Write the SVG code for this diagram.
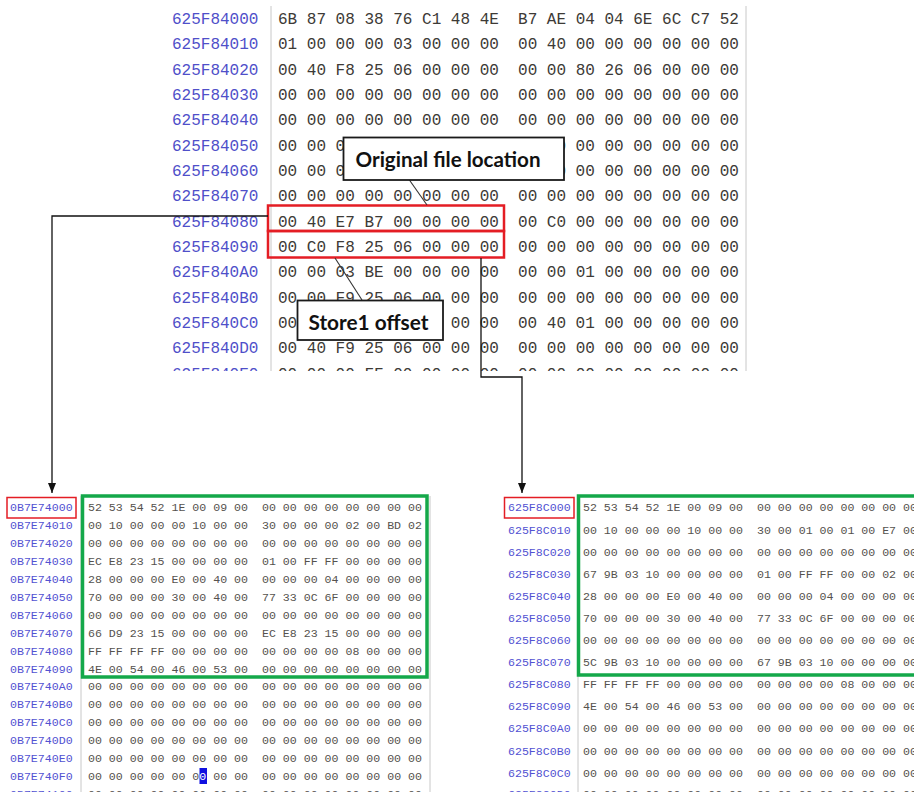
<svg xmlns="http://www.w3.org/2000/svg" width="914" height="792" viewBox="0 0 914 792">
<defs>
<style>
.addr{font-family:"Liberation Mono","Courier New",monospace;font-size:16px;fill:#4f4fc9;white-space:pre}
.hex{font-family:"Liberation Mono","Courier New",monospace;font-size:16px;fill:#3d3a36;white-space:pre}
.addrS{font-family:"Liberation Mono","Courier New",monospace;font-size:11.6px;fill:#5252d2;white-space:pre}
.hexS{font-family:"Liberation Mono","Courier New",monospace;font-size:11.6px;fill:#55524e;white-space:pre}
.sep{stroke:#c8c8c8;stroke-width:1;fill:none}
.red{fill:none;stroke:#e41d24;stroke-width:2.5}
.redS{fill:none;stroke:#e41d24;stroke-width:1.5}
.green{fill:none;stroke:#14a84a;stroke-width:3.5}
.conn{fill:none;stroke:#111;stroke-width:1.3}
.ptr{fill:none;stroke:#333;stroke-width:1.1}
.cbox{fill:#fff;stroke:#1a1a1a;stroke-width:1.8}
.ctext{font-family:"Lato","Liberation Sans",sans-serif;font-weight:bold;font-size:21px;fill:#111}
</style>
<marker id="arr" markerUnits="userSpaceOnUse" markerWidth="10" markerHeight="10" refX="10" refY="5" orient="auto">
<path d="M0,1 L10,5 L0,9 z" fill="#111"/>
</marker>
<clipPath id="clipTop"><rect x="150" y="0" width="620" height="371"/></clipPath>
</defs>
<rect width="914" height="792" fill="#fff"/>

<g id="panel-top" clip-path="url(#clipTop)" xml:space="preserve">
<line class="sep" x1="271" y1="6" x2="271" y2="371"/>
<line class="sep" x1="746" y1="6" x2="746" y2="371" stroke="#dcdcdc"/>
<text class="addr" x="172" y="23.8">625F84000</text><text class="hex" x="278" y="23.8">6B 87 08 38 76 C1 48 4E  B7 AE 04 04 6E 6C C7 52</text>
<text class="addr" x="172" y="49.15">625F84010</text><text class="hex" x="278" y="49.15">01 00 00 00 03 00 00 00  00 40 00 00 00 00 00 00</text>
<text class="addr" x="172" y="74.5">625F84020</text><text class="hex" x="278" y="74.5">00 40 F8 25 06 00 00 00  00 00 80 26 06 00 00 00</text>
<text class="addr" x="172" y="99.85">625F84030</text><text class="hex" x="278" y="99.85">00 00 00 00 00 00 00 00  00 00 00 00 00 00 00 00</text>
<text class="addr" x="172" y="125.2">625F84040</text><text class="hex" x="278" y="125.2">00 00 00 00 00 00 00 00  00 00 00 00 00 00 00 00</text>
<text class="addr" x="172" y="150.55">625F84050</text><text class="hex" x="278" y="150.55">00 00 00</text><text class="hex" x="546.8" y="150.55">00 00 00 00 00 00 00</text>
<text class="addr" x="172" y="175.9">625F84060</text><text class="hex" x="278" y="175.9">00 00 00</text><text class="hex" x="546.8" y="175.9">00 00 00 00 00 00 00</text>
<text class="addr" x="172" y="201.25">625F84070</text><text class="hex" x="278" y="201.25">00 00 00 00 00 00 00 00  00 00 00 00 00 00 00 00</text>
<text class="addr" x="172" y="226.6">625F84080</text><text class="hex" x="278" y="226.6">00 40 E7 B7 00 00 00 00  00 C0 00 00 00 00 00 00</text>
<text class="addr" x="172" y="251.95">625F84090</text><text class="hex" x="278" y="251.95">00 C0 F8 25 06 00 00 00  00 00 00 00 00 00 00 00</text>
<text class="addr" x="172" y="277.3">625F840A0</text><text class="hex" x="278" y="277.3">00 00 03 BE 00 00 00 00  00 00 01 00 00 00 00 00</text>
<text class="addr" x="172" y="302.65">625F840B0</text><text class="hex" x="278" y="302.65">00 00 F9 25 06 00 00 00  00 00 00 00 00 00 00 00</text>
<text class="addr" x="172" y="328">625F840C0</text><text class="hex" x="278" y="328">00</text><text class="hex" x="450.8" y="328">00 00  00 40 01 00 00 00 00 00</text>
<text class="addr" x="172" y="353.35">625F840D0</text><text class="hex" x="278" y="353.35">00 40 F9 25 06 00 00 00  00 00 00 00 00 00 00 00</text>
<text class="addr" x="172" y="378.7">625F840E0</text><text class="hex" x="278" y="378.7">00 00 00 FF 00 00 00 00  00 00 00 00 00 00 00 00</text>
</g>

<g id="highlight-top">
<rect class="red" x="268" y="205.5" width="236" height="25.5"/>
<rect class="red" x="268" y="231" width="236" height="26.5"/>
</g>

<g id="callout-original">
<line class="ptr" x1="408" y1="178" x2="427" y2="205"/>
<rect class="cbox" x="343.5" y="137.5" width="220.5" height="42.5"/>
<text class="ctext" x="355.5" y="167" textLength="185" lengthAdjust="spacingAndGlyphs">Original file location</text>
</g>

<g id="callout-store1">
<line class="ptr" x1="335" y1="258" x2="362" y2="300"/>
<rect class="cbox" x="297.5" y="300.5" width="145.5" height="39.5"/>
<text class="ctext" x="308.5" y="330" textLength="120" lengthAdjust="spacingAndGlyphs">Store1 offset</text>
</g>

<g id="panel-left" xml:space="preserve">
<line class="sep" x1="81" y1="496" x2="81" y2="792"/>
<line class="sep" x1="430" y1="496" x2="430" y2="792" stroke="#dcdcdc"/>
<text class="addrS" x="10" y="511.4">0B7E74000</text><text class="hexS" x="88" y="511.4">52 53 54 52 1E 00 09 00  00 00 00 00 00 00 00 00</text>
<text class="addrS" x="10" y="529.3">0B7E74010</text><text class="hexS" x="88" y="529.3">00 10 00 00 00 10 00 00  30 00 00 00 02 00 BD 02</text>
<text class="addrS" x="10" y="547.2">0B7E74020</text><text class="hexS" x="88" y="547.2">00 00 00 00 00 00 00 00  00 00 00 00 00 00 00 00</text>
<text class="addrS" x="10" y="565.1">0B7E74030</text><text class="hexS" x="88" y="565.1">EC E8 23 15 00 00 00 00  01 00 FF FF 00 00 00 00</text>
<text class="addrS" x="10" y="583">0B7E74040</text><text class="hexS" x="88" y="583">28 00 00 00 E0 00 40 00  00 00 00 04 00 00 00 00</text>
<text class="addrS" x="10" y="600.9">0B7E74050</text><text class="hexS" x="88" y="600.9">70 00 00 00 30 00 40 00  77 33 0C 6F 00 00 00 00</text>
<text class="addrS" x="10" y="618.8">0B7E74060</text><text class="hexS" x="88" y="618.8">00 00 00 00 00 00 00 00  00 00 00 00 00 00 00 00</text>
<text class="addrS" x="10" y="636.7">0B7E74070</text><text class="hexS" x="88" y="636.7">66 D9 23 15 00 00 00 00  EC E8 23 15 00 00 00 00</text>
<text class="addrS" x="10" y="654.6">0B7E74080</text><text class="hexS" x="88" y="654.6">FF FF FF FF 00 00 00 00  00 00 00 00 08 00 00 00</text>
<text class="addrS" x="10" y="672.5">0B7E74090</text><text class="hexS" x="88" y="672.5">4E 00 54 00 46 00 53 00  00 00 00 00 00 00 00 00</text>
<text class="addrS" x="10" y="690.4">0B7E740A0</text><text class="hexS" x="88" y="690.4">00 00 00 00 00 00 00 00  00 00 00 00 00 00 00 00</text>
<text class="addrS" x="10" y="708.3">0B7E740B0</text><text class="hexS" x="88" y="708.3">00 00 00 00 00 00 00 00  00 00 00 00 00 00 00 00</text>
<text class="addrS" x="10" y="726.2">0B7E740C0</text><text class="hexS" x="88" y="726.2">00 00 00 00 00 00 00 00  00 00 00 00 00 00 00 00</text>
<text class="addrS" x="10" y="744.1">0B7E740D0</text><text class="hexS" x="88" y="744.1">00 00 00 00 00 00 00 00  00 00 00 00 00 00 00 00</text>
<text class="addrS" x="10" y="762">0B7E740E0</text><text class="hexS" x="88" y="762">00 00 00 00 00 00 00 00  00 00 00 00 00 00 00 00</text>
<rect x="199.5" y="768" width="7.5" height="16" fill="#1010e0"/>
<text class="addrS" x="10" y="779.9">0B7E740F0</text><text class="hexS" x="88" y="779.9">00 00 00 00 00 0<tspan fill="#fff">0</tspan> 00 00  00 00 00 00 00 00 00 00</text>
<text class="addrS" x="10" y="797.8">0B7E74100</text><text class="hexS" x="88" y="797.8">00 00 00 00 00 00 00 00  00 00 00 00 00 00 00 00</text>
<rect class="redS" x="7" y="497.5" width="69" height="20.5"/>
<rect class="green" x="82.5" y="496" width="344.5" height="181"/>
</g>

<g id="panel-right" xml:space="preserve">
<line class="sep" x1="578" y1="496" x2="578" y2="792"/>
<text class="addrS" x="508" y="511.4">625F8C000</text><text class="hexS" x="583" y="511.4">52 53 54 52 1E 00 09 00  00 00 00 00 00 00 00 00</text>
<text class="addrS" x="508" y="533.5">625F8C010</text><text class="hexS" x="583" y="533.5">00 10 00 00 00 10 00 00  30 00 01 00 01 00 E7 00</text>
<text class="addrS" x="508" y="555.6">625F8C020</text><text class="hexS" x="583" y="555.6">00 00 00 00 00 00 00 00  00 00 00 00 00 00 00 00</text>
<text class="addrS" x="508" y="577.7">625F8C030</text><text class="hexS" x="583" y="577.7">67 9B 03 10 00 00 00 00  01 00 FF FF 00 00 02 00</text>
<text class="addrS" x="508" y="599.8">625F8C040</text><text class="hexS" x="583" y="599.8">28 00 00 00 E0 00 40 00  00 00 00 04 00 00 00 00</text>
<text class="addrS" x="508" y="621.9">625F8C050</text><text class="hexS" x="583" y="621.9">70 00 00 00 30 00 40 00  77 33 0C 6F 00 00 00 00</text>
<text class="addrS" x="508" y="644">625F8C060</text><text class="hexS" x="583" y="644">00 00 00 00 00 00 00 00  00 00 00 00 00 00 00 00</text>
<text class="addrS" x="508" y="666.1">625F8C070</text><text class="hexS" x="583" y="666.1">5C 9B 03 10 00 00 00 00  67 9B 03 10 00 00 00 00</text>
<text class="addrS" x="508" y="688.2">625F8C080</text><text class="hexS" x="583" y="688.2">FF FF FF FF 00 00 00 00  00 00 00 00 08 00 00 00</text>
<text class="addrS" x="508" y="710.3">625F8C090</text><text class="hexS" x="583" y="710.3">4E 00 54 00 46 00 53 00  00 00 00 00 00 00 00 00</text>
<text class="addrS" x="508" y="732.4">625F8C0A0</text><text class="hexS" x="583" y="732.4">00 00 00 00 00 00 00 00  00 00 00 00 00 00 00 00</text>
<text class="addrS" x="508" y="754.5">625F8C0B0</text><text class="hexS" x="583" y="754.5">00 00 00 00 00 00 00 00  00 00 00 00 00 00 00 00</text>
<text class="addrS" x="508" y="776.6">625F8C0C0</text><text class="hexS" x="583" y="776.6">00 00 00 00 00 00 00 00  00 00 00 00 00 00 00 00</text>
<text class="addrS" x="508" y="797.5">625F8C0D0</text><text class="hexS" x="583" y="797.5">00 00 00 00 00 00 00 00  00 00 00 00 00 00 00 00</text>
<rect class="redS" x="504.5" y="497.5" width="69.5" height="20.5"/>
<rect class="green" x="578.5" y="496" width="360" height="179"/>
</g>

<g id="connectors">
<path class="conn" d="M268,216 H52 V493" marker-end="url(#arr)"/>
<path class="conn" d="M481,258 V377 H522 V493" marker-end="url(#arr)"/>
</g>
</svg>
